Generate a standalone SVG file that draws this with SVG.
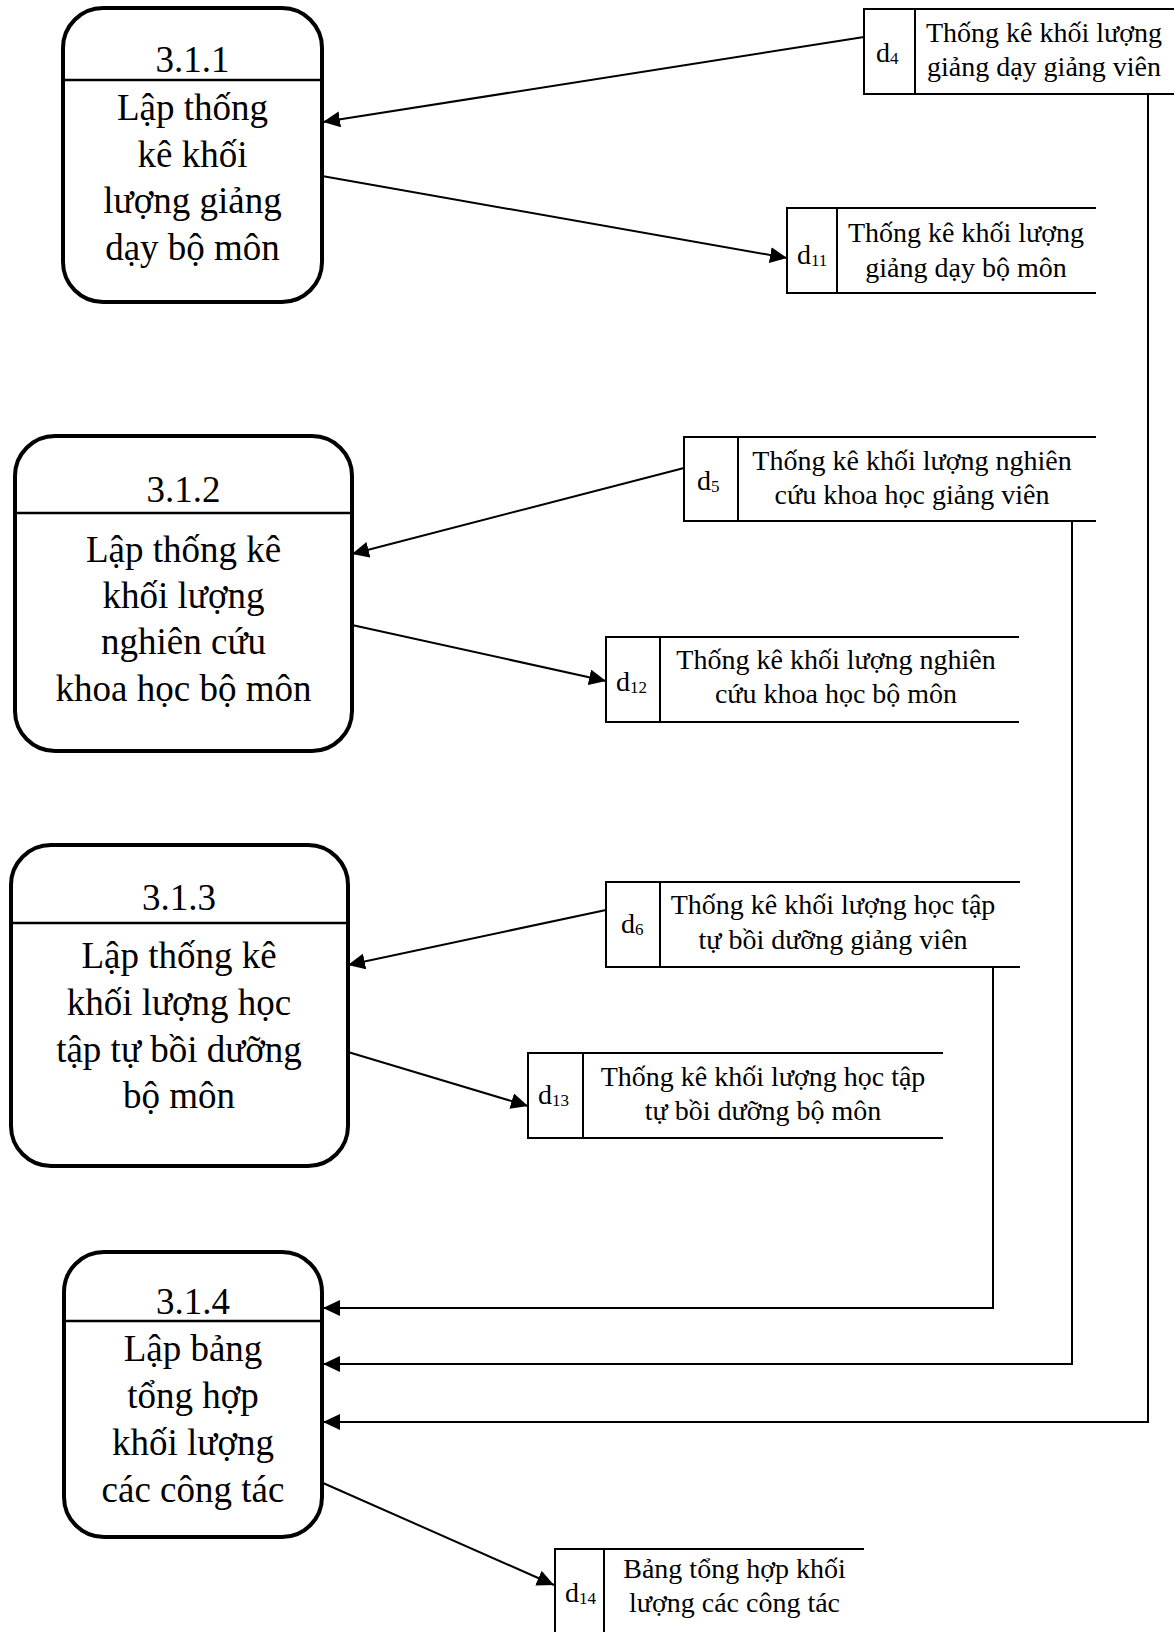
<svg xmlns="http://www.w3.org/2000/svg" width="1174" height="1632" viewBox="0 0 1174 1632">
  <style>
    .proc { fill: #ffffff; stroke: #000000; stroke-width: 4; }
    .div { stroke: #000000; stroke-width: 2.5; }
    .store { fill: none; stroke: #000000; stroke-width: 2; }
    .flow { fill: none; stroke: #000000; stroke-width: 2; }
    .pt { font-family: "Liberation Serif", "Times New Roman", serif; font-size: 37px; fill: #000000; text-anchor: middle; }
    .st { font-family: "Liberation Serif", "Times New Roman", serif; font-size: 28px; fill: #000000; text-anchor: middle; }
    .sd { font-family: "Liberation Serif", "Times New Roman", serif; font-size: 28px; fill: #000000; }
    .sub { font-size: 17px; }
  </style>
  <defs>
    <marker id="arrow" markerUnits="userSpaceOnUse" markerWidth="18" markerHeight="16" refX="17" refY="8" orient="auto">
      <path d="M0,0 L17,8 L0,16 z" fill="#000000"/>
    </marker>
  </defs>

  <rect x="0" y="0" width="1174" height="1632" fill="#ffffff"/>

  <!-- connectors -->
  <g id="connectors">
    <line class="flow" x1="864" y1="37" x2="323" y2="122" marker-end="url(#arrow)"/>
    <line class="flow" x1="322" y1="176" x2="787" y2="258" marker-end="url(#arrow)"/>
    <line class="flow" x1="684" y1="468" x2="352" y2="554" marker-end="url(#arrow)"/>
    <line class="flow" x1="352" y1="625" x2="606" y2="681" marker-end="url(#arrow)"/>
    <line class="flow" x1="606" y1="910" x2="348" y2="965" marker-end="url(#arrow)"/>
    <line class="flow" x1="348" y1="1052" x2="528" y2="1106" marker-end="url(#arrow)"/>
    <polyline class="flow" points="993,967 993,1308 323,1308" marker-end="url(#arrow)"/>
    <polyline class="flow" points="1072,521 1072,1364 323,1364" marker-end="url(#arrow)"/>
    <polyline class="flow" points="1148,94 1148,1422 323,1422" marker-end="url(#arrow)"/>
    <line class="flow" x1="323" y1="1483" x2="554" y2="1585" marker-end="url(#arrow)"/>
  </g>

  <!-- processes -->
  <g id="p311">
    <rect class="proc" x="63" y="8" width="259" height="294" rx="40" ry="40"/>
    <line class="div" x1="63" y1="80" x2="322" y2="80"/>
    <text class="pt" x="192.5" y="72">3.1.1</text>
    <text class="pt" x="192.5" y="120">Lập thống</text>
    <text class="pt" x="192.5" y="167">kê khối</text>
    <text class="pt" x="192.5" y="213">lượng giảng</text>
    <text class="pt" x="192.5" y="260">dạy bộ môn</text>
  </g>

  <g id="p312">
    <rect class="proc" x="15" y="436" width="337" height="315" rx="40" ry="40"/>
    <line class="div" x1="15" y1="513" x2="352" y2="513"/>
    <text class="pt" x="183.5" y="502">3.1.2</text>
    <text class="pt" x="183.5" y="562">Lập thống kê</text>
    <text class="pt" x="183.5" y="608">khối lượng</text>
    <text class="pt" x="183.5" y="654">nghiên cứu</text>
    <text class="pt" x="183.5" y="701">khoa học bộ môn</text>
  </g>

  <g id="p313">
    <rect class="proc" x="11" y="845" width="337" height="321" rx="40" ry="40"/>
    <line class="div" x1="11" y1="923" x2="348" y2="923"/>
    <text class="pt" x="179" y="910">3.1.3</text>
    <text class="pt" x="179" y="968">Lập thống kê</text>
    <text class="pt" x="179" y="1015">khối lượng học</text>
    <text class="pt" x="179" y="1062">tập tự bồi dưỡng</text>
    <text class="pt" x="179" y="1108">bộ môn</text>
  </g>

  <g id="p314">
    <rect class="proc" x="64" y="1252" width="258" height="285" rx="40" ry="40"/>
    <line class="div" x1="64" y1="1321" x2="322" y2="1321"/>
    <text class="pt" x="193" y="1314">3.1.4</text>
    <text class="pt" x="193" y="1361">Lập bảng</text>
    <text class="pt" x="193" y="1408">tổng hợp</text>
    <text class="pt" x="193" y="1455">khối lượng</text>
    <text class="pt" x="193" y="1502">các công tác</text>
  </g>

  <!-- data stores (open on the right) -->
  <g id="d4">
    <path class="store" d="M1176,9 L864,9 L864,94 L1176,94 M915,9 L915,94"/>
    <text class="sd" x="876" y="62">d<tspan class="sub" dy="2">4</tspan></text>
    <text class="st" x="1044" y="42">Thống kê khối lượng</text>
    <text class="st" x="1044" y="76">giảng dạy giảng viên</text>
  </g>

  <g id="d11">
    <path class="store" d="M1096,208 L787,208 L787,293 L1096,293 M837,208 L837,293"/>
    <text class="sd" x="797" y="264">d<tspan class="sub" dy="2">11</tspan></text>
    <text class="st" x="966" y="242">Thống kê khối lượng</text>
    <text class="st" x="966" y="277">giảng dạy bộ môn</text>
  </g>

  <g id="d5">
    <path class="store" d="M1096,437 L684,437 L684,521 L1096,521 M738,437 L738,521"/>
    <text class="sd" x="697" y="490">d<tspan class="sub" dy="2">5</tspan></text>
    <text class="st" x="912" y="470">Thống kê khối lượng nghiên</text>
    <text class="st" x="912" y="504">cứu khoa học giảng viên</text>
  </g>

  <g id="d12">
    <path class="store" d="M1019,637 L606,637 L606,722 L1019,722 M660,637 L660,722"/>
    <text class="sd" x="616" y="691">d<tspan class="sub" dy="2">12</tspan></text>
    <text class="st" x="836" y="669">Thống kê khối lượng nghiên</text>
    <text class="st" x="836" y="703">cứu khoa học bộ môn</text>
  </g>

  <g id="d6">
    <path class="store" d="M1020,882 L606,882 L606,967 L1020,967 M660,882 L660,967"/>
    <text class="sd" x="621" y="933">d<tspan class="sub" dy="2">6</tspan></text>
    <text class="st" x="833" y="914">Thống kê khối lượng học tập</text>
    <text class="st" x="833" y="949">tự bồi dưỡng giảng viên</text>
  </g>

  <g id="d13">
    <path class="store" d="M943,1053 L528,1053 L528,1138 L943,1138 M583,1053 L583,1138"/>
    <text class="sd" x="538" y="1104">d<tspan class="sub" dy="2">13</tspan></text>
    <text class="st" x="763" y="1086">Thống kê khối lượng học tập</text>
    <text class="st" x="763" y="1120">tự bồi dưỡng bộ môn</text>
  </g>

  <g id="d14">
    <path class="store" d="M864,1549 L555,1549 L555,1640 M604,1549 L604,1640"/>
    <text class="sd" x="565" y="1602">d<tspan class="sub" dy="2">14</tspan></text>
    <text class="st" x="734.5" y="1578">Bảng tổng hợp khối</text>
    <text class="st" x="734.5" y="1612">lượng các công tác</text>
  </g>
</svg>
